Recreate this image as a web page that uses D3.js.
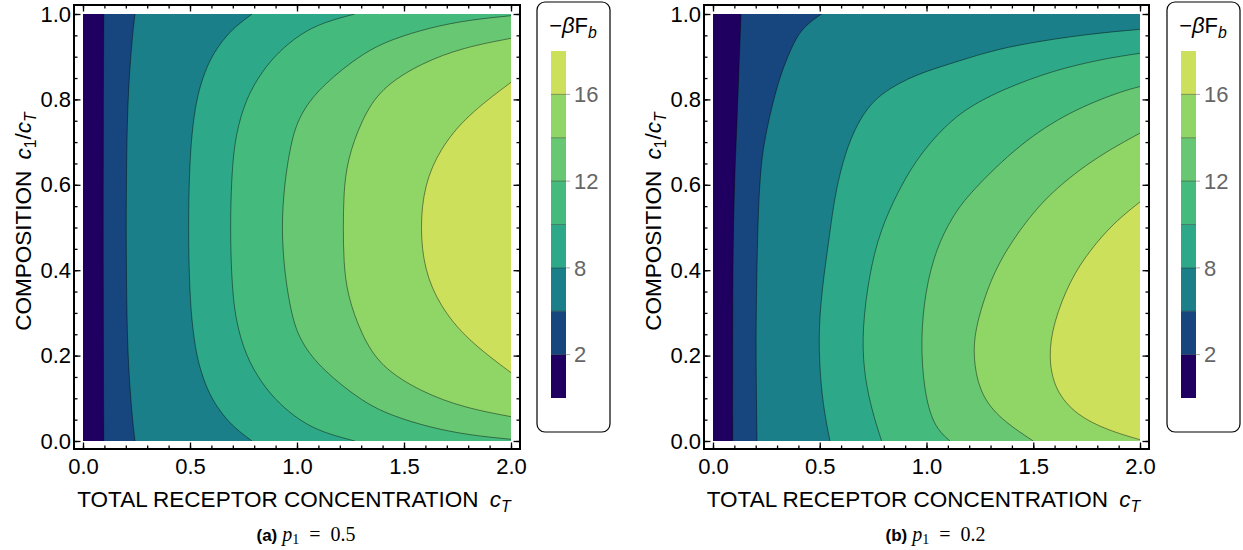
<!DOCTYPE html>
<html>
<head>
<meta charset="utf-8">
<script src="https://cdn.jsdelivr.net/npm/d3@7"></script>
<style>
  body { margin: 0; background: #fff; }
  svg { display: block; font-family: "Liberation Sans", Arial, sans-serif; }
</style>
</head>
<body>
<svg id="chart" width="1243" height="550"></svg>
<script>
// Contour levels of -beta*F_b and the fill colour of each band (lowest band first)
const levels = [2, 5, 8, 10, 12, 14, 16];
const bandColors = ["#1f0061", "#17467e", "#1a7f88", "#2da889", "#45ba7d", "#68c772", "#90d667", "#cde05b"];
const legendTicks = [2, 8, 12, 16];

// Axis ticks
const xTicks = [0, 0.5, 1, 1.5, 2];
const yTicks = [0, 0.2, 0.4, 0.6, 0.8, 1];
const xMinorTicks = d3.range(0, 2.0001, 0.1);
const yMinorTicks = d3.range(0, 1.0001, 0.05);

// Contour lines, [c_T, c_1/c_T] pairs ordered by composition, panel (a): p1 = 0.5
const contourA2 = [[0.097, 0], [0.095, 0.25], [0.094, 0.5], [0.095, 0.75], [0.097, 1]];
const contourA5 = [[0.243, 0], [0.232, 0.045], [0.22, 0.12], [0.21, 0.2], [0.204, 0.32], [0.201, 0.5],
  [0.204, 0.68], [0.21, 0.8], [0.22, 0.88], [0.232, 0.955], [0.243, 1]];
const contourA8 = [[0.79, 0], [0.71, 0.03], [0.655, 0.06], [0.6, 0.1], [0.562, 0.145], [0.53, 0.2], [0.508, 0.28],
  [0.497, 0.37], [0.492, 0.5], [0.497, 0.63], [0.508, 0.72], [0.53, 0.8], [0.562, 0.855], [0.6, 0.9],
  [0.655, 0.94], [0.71, 0.97], [0.79, 1]];
const contourA10 = [[1.27, 0], [1.12, 0.02], [1.015, 0.047], [0.915, 0.088], [0.835, 0.135], [0.76, 0.2], [0.715, 0.28],
  [0.696, 0.36], [0.687, 0.5], [0.696, 0.64], [0.715, 0.72], [0.76, 0.8], [0.835, 0.865], [0.915, 0.912],
  [1.015, 0.953], [1.12, 0.98], [1.27, 1]];
const contourA12 = [[2.0, 0.004], [1.8, 0.014], [1.62, 0.032], [1.45, 0.058], [1.31, 0.09], [1.115, 0.168],
  [1.02, 0.23], [0.975, 0.29], [0.94, 0.4], [0.928, 0.5], [0.94, 0.6], [0.975, 0.71], [1.02, 0.77],
  [1.115, 0.832], [1.31, 0.91], [1.45, 0.942], [1.62, 0.968], [1.8, 0.986], [2.0, 0.996]];
const contourA14 = [[2.0, 0.057], [1.78, 0.078], [1.58, 0.115], [1.39, 0.174], [1.3, 0.25], [1.235, 0.342],
  [1.218, 0.42], [1.216, 0.5], [1.218, 0.58], [1.235, 0.658], [1.3, 0.75], [1.39, 0.826], [1.58, 0.885],
  [1.78, 0.922], [2.0, 0.943]];
const contourA16 = [[2.0, 0.16], [1.793, 0.238], [1.668, 0.316], [1.595, 0.4], [1.575, 0.5], [1.595, 0.6],
  [1.668, 0.684], [1.793, 0.762], [2.0, 0.84]];

// Contour lines, panel (b): p1 = 0.2
const contourB2 = [[0.092, 0], [0.092, 0.3], [0.094, 0.45], [0.1, 0.6], [0.11, 0.72], [0.12, 0.85], [0.131, 1]];
const contourB5 = [[0.206, 0], [0.203, 0.12], [0.201, 0.237], [0.204, 0.354], [0.208, 0.46], [0.213, 0.55],
  [0.224, 0.642], [0.24, 0.7], [0.267, 0.765], [0.3, 0.83], [0.333, 0.88], [0.392, 0.95], [0.45, 0.98], [0.509, 1]];
const contourB8 = [[0.548, 0], [0.522, 0.065], [0.503, 0.143], [0.495, 0.237], [0.503, 0.314], [0.52, 0.39],
  [0.54, 0.46], [0.566, 0.56], [0.6, 0.64], [0.642, 0.705], [0.69, 0.755], [0.751, 0.797], [0.83, 0.826],
  [0.907, 0.847], [1.0, 0.866], [1.126, 0.886], [1.28, 0.91], [1.438, 0.929], [1.75, 0.953], [2.0, 0.964]];
const contourB10 = [[0.79, 0], [0.748, 0.065], [0.712, 0.143], [0.697, 0.237], [0.72, 0.354], [0.767, 0.47],
  [0.845, 0.564], [0.95, 0.66], [1.09, 0.74], [1.2, 0.783], [1.36, 0.824], [1.594, 0.868], [1.828, 0.895],
  [2.0, 0.908]];
const contourB12 = [[1.11, 0], [1.032, 0.035], [0.988, 0.119], [0.972, 0.237], [0.995, 0.354], [1.045, 0.45],
  [1.12, 0.525], [1.204, 0.582], [1.438, 0.697], [1.672, 0.772], [1.906, 0.818], [2.0, 0.83]];
const contourB14 = [[1.5, 0], [1.329, 0.057], [1.245, 0.119], [1.219, 0.197], [1.227, 0.26], [1.282, 0.354],
  [1.36, 0.44], [1.516, 0.549], [1.672, 0.619], [1.828, 0.674], [2.0, 0.721]];
const contourB16 = [[2.0, 0.003], [1.85, 0.025], [1.703, 0.06], [1.6, 0.119], [1.571, 0.197], [1.594, 0.276],
  [1.672, 0.377], [1.766, 0.447], [1.875, 0.51], [2.0, 0.56]];

const contoursA = [contourA2, contourA5, contourA8, contourA10, contourA12, contourA14, contourA16];
const contoursB = [contourB2, contourB5, contourB8, contourB10, contourB12, contourB14, contourB16];

const svg = d3.select("#chart");
const FONT = 22;
const yTop = 14, yBot = 441;
const frameTop = 5, frameBot = 449, framePad = 9;

const panels = [
  { id: "a", contours: contoursA, x0: 83, x1: 511, legendX: 537, pValue: "0.5" },
  { id: "b", contours: contoursB, x0: 713, x1: 1140, legendX: 1167, pValue: "0.2" }
];

panels.forEach(p => {
  const g = svg.append("g");
  const x = d3.scaleLinear().domain([0, 2]).range([p.x0, p.x1]);
  const y = d3.scaleLinear().domain([0, 1]).range([yBot, yTop]);

  const clipId = "clip-" + p.id;
  svg.append("clipPath").attr("id", clipId).append("rect")
    .attr("x", x(0)).attr("y", y(1)).attr("width", x(2) - x(0)).attr("height", y(0) - y(1));

  const plot = g.append("g").attr("clip-path", `url(#${clipId})`);
  plot.append("rect")
    .attr("x", x(0)).attr("y", y(1)).attr("width", x(2) - x(0)).attr("height", y(0) - y(1))
    .attr("fill", bandColors[0]);

  // smooth B-spline through the contour points (ends stay on the plot edges)
  const line = d3.line().x(d => x(d[0])).y(d => y(d[1])).curve(d3.curveBasis);

  // Each band: region on the high side of its contour, closed along the plot edges
  p.contours.forEach((pts, i) => {
    const first = pts[0], last = pts[pts.length - 1];
    let d = line(pts);
    if (last[1] >= 1) d += `L${x(2)},${y(1)}`;
    if (first[1] <= 0) d += `L${x(2)},${y(0)}`;
    d += "Z";
    plot.append("path").attr("d", d).attr("fill", bandColors[i + 1]);
  });

  p.contours.forEach(pts => {
    plot.append("path").attr("d", line(pts))
      .attr("fill", "none").attr("stroke", "#000")
      .attr("stroke-opacity", 0.55).attr("stroke-width", 0.8);
  });

  // Frame
  const frameL = x(0) - framePad, frameR = x(2) + framePad;
  g.append("rect")
    .attr("x", frameL).attr("y", frameTop)
    .attr("width", frameR - frameL).attr("height", frameBot - frameTop)
    .attr("fill", "none").attr("stroke", "#000").attr("stroke-width", 2);

  function styleAxis(sel) {
    sel.select(".domain").remove();
    sel.selectAll(".tick line").attr("stroke", "#000").attr("stroke-width", 1.3);
    sel.selectAll("text")
      .attr("font-size", FONT).attr("font-family", "Liberation Sans, Arial, sans-serif")
      .attr("fill", "#000");
  }

  const fmt = d3.format(".1f");
  // bottom
  g.append("g").attr("transform", `translate(0,${frameBot})`)
    .call(d3.axisBottom(x).tickValues(xMinorTicks).tickSize(-3.5).tickFormat("")).call(styleAxis);
  g.append("g").attr("transform", `translate(0,${frameBot})`)
    .call(d3.axisBottom(x).tickValues(xTicks).tickSize(-6.5).tickPadding(9).tickFormat(fmt)).call(styleAxis);
  // top
  g.append("g").attr("transform", `translate(0,${frameTop})`)
    .call(d3.axisTop(x).tickValues(xMinorTicks).tickSize(-3.5).tickFormat("")).call(styleAxis);
  g.append("g").attr("transform", `translate(0,${frameTop})`)
    .call(d3.axisTop(x).tickValues(xTicks).tickSize(-6.5).tickFormat("")).call(styleAxis);
  // left
  g.append("g").attr("transform", `translate(${frameL},0)`)
    .call(d3.axisLeft(y).tickValues(yMinorTicks).tickSize(-3.5).tickFormat("")).call(styleAxis);
  g.append("g").attr("transform", `translate(${frameL},0)`)
    .call(d3.axisLeft(y).tickValues(yTicks).tickSize(-6.5).tickPadding(3).tickFormat(fmt)).call(styleAxis);
  // right
  g.append("g").attr("transform", `translate(${frameR},0)`)
    .call(d3.axisRight(y).tickValues(yMinorTicks).tickSize(-3.5).tickFormat("")).call(styleAxis);
  g.append("g").attr("transform", `translate(${frameR},0)`)
    .call(d3.axisRight(y).tickValues(yTicks).tickSize(-6.5).tickFormat("")).call(styleAxis);

  // Axis titles
  const xt = g.append("text")
    .attr("x", (x(0) + x(2)) / 2 - 3).attr("y", 507)
    .attr("text-anchor", "middle").attr("font-size", FONT + 0.5).attr("fill", "#000");
  xt.append("tspan").text("TOTAL RECEPTOR CONCENTRATION\u2002");
  xt.append("tspan").attr("font-style", "italic").text("c");
  xt.append("tspan").attr("font-style", "italic").attr("font-size", FONT * 0.72).attr("dy", 5).text("T");

  const yt = g.append("text")
    .attr("transform", `translate(${frameL - 43},${(yTop + yBot) / 2 - 6}) rotate(-90)`)
    .attr("text-anchor", "middle").attr("font-size", FONT + 0.5).attr("fill", "#000");
  yt.append("tspan").text("COMPOSITION\u2002");
  yt.append("tspan").attr("font-style", "italic").text("c");
  yt.append("tspan").attr("font-size", FONT * 0.72).attr("dy", 5).text("1");
  yt.append("tspan").attr("dy", -5).text("/");
  yt.append("tspan").attr("font-style", "italic").text("c");
  yt.append("tspan").attr("font-style", "italic").attr("font-size", FONT * 0.72).attr("dy", 5).text("T");

  // Legend
  const lx = p.legendX;
  const lg = svg.append("g");
  lg.append("rect")
    .attr("x", lx).attr("y", 2).attr("width", 73).attr("height", 430)
    .attr("rx", 8).attr("ry", 8)
    .attr("fill", "#fff").attr("stroke", "#000").attr("stroke-width", 1.2);

  const lt = lg.append("text")
    .attr("x", lx + 36).attr("y", 33).attr("text-anchor", "middle")
    .attr("font-size", FONT).attr("fill", "#000");
  lt.append("tspan").text("\u2212");
  lt.append("tspan").attr("font-style", "italic").text("\u03B2");
  lt.append("tspan").text("F");
  lt.append("tspan").attr("font-style", "italic").attr("font-size", FONT * 0.72).attr("dy", 5).text("b");

  const barX = lx + 14, barW = 15;
  const bandY = d3.scaleLinear().domain([0, bandColors.length]).range([398, 51]);
  lg.selectAll("rect.band").data(bandColors).join("rect")
    .attr("class", "band")
    .attr("x", barX).attr("width", barW)
    .attr("y", (c, i) => bandY(i + 1)).attr("height", (c, i) => bandY(i) - bandY(i + 1))
    .attr("fill", c => c);
  lg.selectAll("line.sep").data(levels).join("line")
    .attr("class", "sep")
    .attr("x1", barX).attr("x2", barX + barW)
    .attr("y1", (v, i) => bandY(i + 1)).attr("y2", (v, i) => bandY(i + 1))
    .attr("stroke", "#000").attr("stroke-opacity", 0.45).attr("stroke-width", 0.8);
  lg.selectAll("line.lt").data(legendTicks).join("line")
    .attr("class", "lt")
    .attr("x1", barX + barW).attr("x2", barX + barW + 4)
    .attr("y1", v => bandY(levels.indexOf(v) + 1)).attr("y2", v => bandY(levels.indexOf(v) + 1))
    .attr("stroke", "#aaa").attr("stroke-width", 1);
  lg.selectAll("text.lt").data(legendTicks).join("text")
    .attr("class", "lt")
    .attr("x", barX + barW + 8).attr("y", v => bandY(levels.indexOf(v) + 1))
    .attr("dy", "0.35em").attr("font-size", FONT).attr("fill", "#666")
    .text(v => v);

  // Caption
  const cap = svg.append("text")
    .attr("x", (x(0) + x(2)) / 2 + 9).attr("y", 541)
    .attr("text-anchor", "middle").attr("font-size", 17).attr("fill", "#000");
  cap.append("tspan").attr("font-weight", "bold").text("(" + p.id + ")");
  cap.append("tspan").attr("font-family", "Liberation Serif, serif").attr("font-style", "italic")
    .attr("font-size", 20).attr("dx", 5).text("p");
  cap.append("tspan").attr("font-family", "Liberation Serif, serif").attr("font-size", 14).attr("dy", 3).text("1");
  cap.append("tspan").attr("font-family", "Liberation Serif, serif").attr("font-size", 20).attr("dy", -3)
    .text("\u2002=\u2002" + p.pValue);
});
</script>
</body>
</html>
